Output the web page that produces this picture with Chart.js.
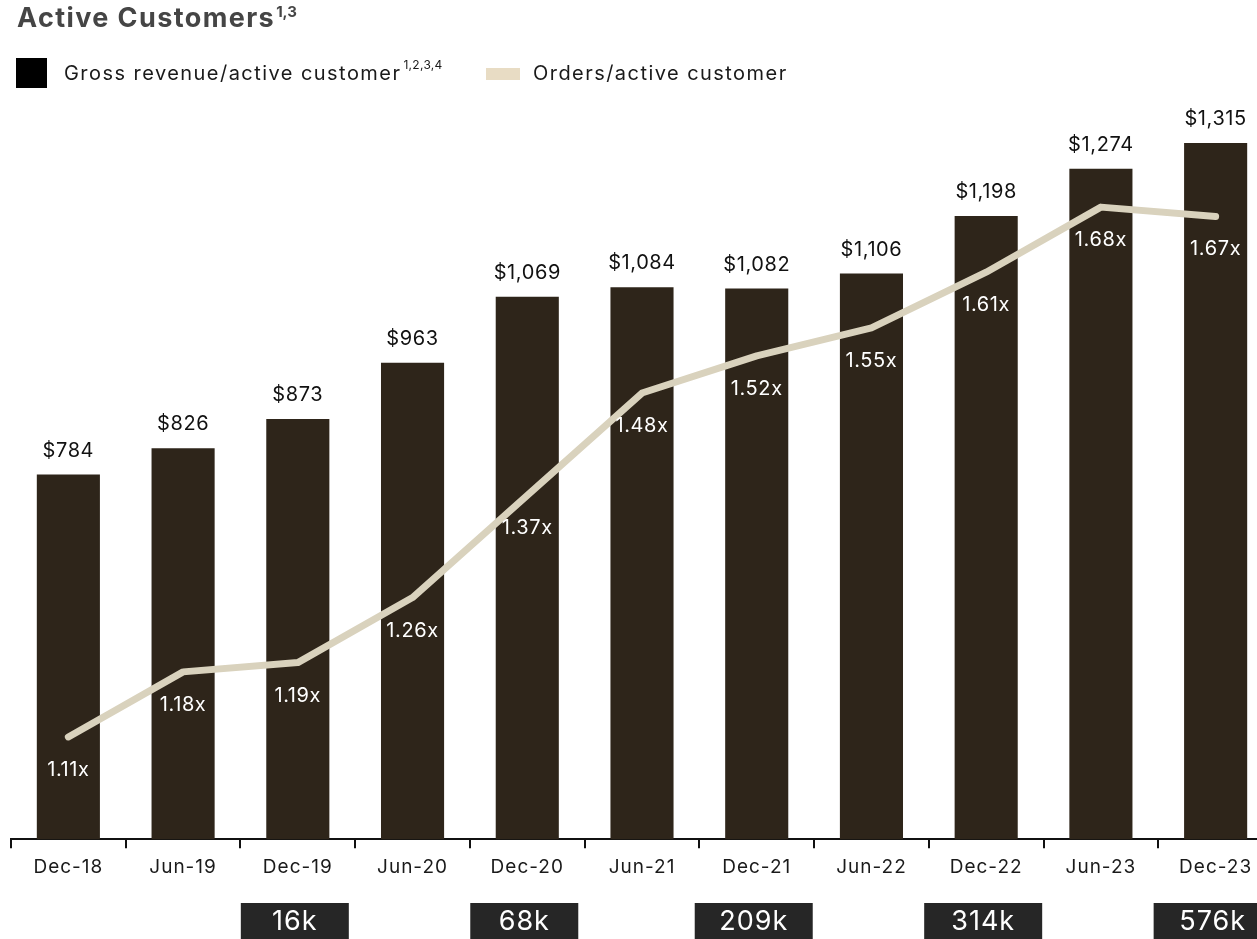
<!DOCTYPE html>
<html>
<head>
<meta charset="utf-8">
<script src="https://cdn.jsdelivr.net/npm/chart.js@4"></script>
<style>
  html, body { margin: 0; padding: 0; background: #fff; overflow: hidden; width: 1257px; height: 939px; }
  body { font-family: Inter, "Noto Sans", sans-serif; position: relative; }
  #title { position: absolute; left: 17px; top: 1px; font-size: 27px; font-weight: 700; color: #454545; white-space: nowrap; letter-spacing: 1.4px; line-height: 34px; }
  #title sup { font-size: 15px; position: relative; top: -6px; vertical-align: top; letter-spacing: 0; margin-left: 1px; }
  .leg { position: absolute; top: 58px; font-size: 20px; color: #1a1a1a; white-space: nowrap; line-height: 30px; letter-spacing: 1.45px; }
  .leg sup { font-size: 12px; position: relative; top: -8px; vertical-align: top; letter-spacing: 0.3px; margin-left: 2px; }
  .sw { position: absolute; }
  #wrap { position: absolute; left: 0; top: 0; width: 1290px; height: 939px; }
</style>
</head>
<body>
<div id="wrap"><canvas id="chart"></canvas></div>
<div id="title">Active Customers<sup>1,3</sup></div>
<div class="sw" style="left:16px;top:58px;width:31px;height:30px;background:#000"></div>
<div class="leg" style="left:64px">Gross revenue/active customer<sup>1,2,3,4</sup></div>
<div class="sw" style="left:486px;top:68px;width:34px;height:12px;background:#e8dcc4"></div>
<div class="leg" style="left:533px">Orders/active customer</div>
<script>
const periods = ["Dec-18", "Jun-19", "Dec-19", "Jun-20", "Dec-20", "Jun-21", "Dec-21", "Jun-22", "Dec-22", "Jun-23", "Dec-23"];
const revenuePerCustomer = [784, 826, 873, 963, 1069, 1084, 1082, 1106, 1198, 1274, 1315];
const ordersPerCustomer = [1.11, 1.18, 1.19, 1.26, 1.37, 1.48, 1.52, 1.55, 1.61, 1.68, 1.67];
const activeCustomers = [null, null, "16k", null, "68k", null, "209k", null, "314k", null, "576k"];

const FONT = 'Inter, "Noto Sans", sans-serif';

// wider letter spacing for every canvas text
const spacingPlugin = {
  id: "spacing",
  beforeDraw(chart) { chart.ctx.letterSpacing = "1px"; }
};

// value labels over bars, multiples under the line, customer counts under the axis
const labelsPlugin = {
  id: "labels",
  afterDatasetsDraw(chart) {
    const ctx = chart.ctx;
    ctx.save();
    ctx.letterSpacing = "0.6px";
    ctx.textAlign = "center";
    ctx.textBaseline = "middle";
    ctx.font = "20px " + FONT;

    chart.getDatasetMeta(1).data.forEach((bar, i) => {
      ctx.fillStyle = "#111";
      ctx.fillText("$" + revenuePerCustomer[i].toLocaleString("en-US"), bar.x, bar.y - 24);
    });
    chart.getDatasetMeta(0).data.forEach((pt, i) => {
      ctx.fillStyle = "#fff";
      ctx.fillText(ordersPerCustomer[i].toFixed(2) + "x", pt.x, pt.y + 33);
    });

    const x = chart.scales.x;
    ctx.font = "27px " + FONT;
    ctx.letterSpacing = "1px";
    activeCustomers.forEach((v, i) => {
      if (!v) return;
      const cx = x.getPixelForValue(i);
      const w = v.length > 3 ? 118 : 108;
      ctx.fillStyle = "#262626";
      ctx.fillRect(cx - w / 2 - 3, 903, w, 40);
      ctx.fillStyle = "#fff";
      ctx.fillText(v, cx - 3, 922);
    });
    ctx.restore();
  }
};

new Chart(document.getElementById("chart"), {
  data: {
    labels: periods,
    datasets: [
      {
        type: "line",
        label: "Orders/active customer",
        data: ordersPerCustomer,
        yAxisID: "y1",
        borderColor: "#d9d2bd",
        borderWidth: 7,
        borderCapStyle: "round",
        borderJoinStyle: "round",
        pointRadius: 0,
        tension: 0,
        order: 0
      },
      {
        type: "bar",
        label: "Gross revenue/active customer",
        data: revenuePerCustomer,
        yAxisID: "y",
        backgroundColor: "#2e251a",
        barPercentage: 0.55,
        categoryPercentage: 1,
        order: 1
      }
    ]
  },
  options: {
    responsive: true,
    maintainAspectRatio: false,
    animation: false,
    layout: { padding: { left: 11, right: 17, top: 90, bottom: 52 } },
    plugins: { legend: { display: false }, tooltip: { enabled: false } },
    scales: {
      x: {
        offset: true,
        grid: { offset: true, drawOnChartArea: false, color: "#111", tickLength: 9, lineWidth: 2 },
        border: { display: true, color: "#111", width: 2 },
        ticks: { color: "#1a1a1a", font: { family: FONT, size: 19 }, padding: 8, maxRotation: 0 }
      },
      y: { display: false, min: 200, max: 1400 },
      y1: { display: false, min: 1.0, max: 1.806 }
    }
  },
  plugins: [spacingPlugin, labelsPlugin]
});
</script>
</body>
</html>
